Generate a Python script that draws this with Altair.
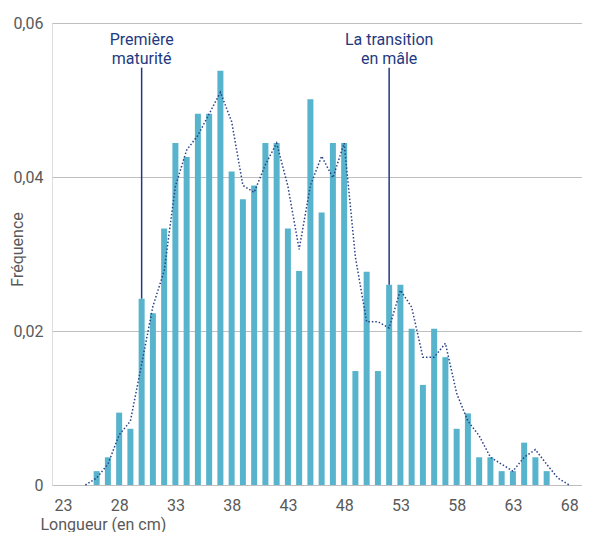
import altair as alt
import pandas as pd

# Bar data (length in cm -> frequency)
lengths = list(range(26, 67))
freqs = [0.0018, 0.0036, 0.0094, 0.0073, 0.0242, 0.0223, 0.0333, 0.0444, 0.0426, 0.0482,
         0.0482, 0.0538, 0.0407, 0.0371, 0.0389, 0.0444, 0.0444, 0.0333, 0.0278, 0.0501,
         0.0354, 0.0444, 0.0444, 0.0148, 0.0277, 0.0148, 0.0260, 0.0260, 0.0203, 0.0130,
         0.0203, 0.0166, 0.0073, 0.0093, 0.0036, 0.0036, 0.0018, 0.0018, 0.0055, 0.0036,
         0.0018]

# Dotted trend line
trend_x = list(range(25, 69))
trend_y = [0.0, 0.0009, 0.0027, 0.0065, 0.0083, 0.0157, 0.0232, 0.0278, 0.0388, 0.0435,
           0.0454, 0.0482, 0.0510, 0.0472, 0.0389, 0.0380, 0.0416, 0.0444, 0.0388, 0.0306,
           0.0389, 0.0427, 0.0399, 0.0444, 0.0296, 0.0212, 0.0212, 0.0204, 0.0253, 0.0231,
           0.0166, 0.0166, 0.0184, 0.0119, 0.0083, 0.0064, 0.0036, 0.0027, 0.0018, 0.0036,
           0.0046, 0.0027, 0.0009, 0.0]

# Annotations
annot_x = [30, 52]
annot_top = [0.0542, 0.0542]
annot_bottom = [0.0242, 0.0260]
annot_text = [["Première", "maturité"], ["La transition", "en mâle"]]

x_ticks = [23, 28, 33, 38, 43, 48, 53, 58, 63, 68]
y_ticks = [0, 0.02, 0.04, 0.06]

FONT = "Roboto"
LABEL_COLOR = "#595959"
NAVY = "#1F3A80"

bars_df = pd.DataFrame({"x": lengths, "y": freqs})
trend_df = pd.DataFrame({"x": trend_x, "y": trend_y})
annot_df = pd.DataFrame({"x": annot_x, "top": annot_top, "bottom": annot_bottom,
                         "label": annot_text})

xscale = alt.Scale(domain=[22.4768, 68.697], nice=False, zero=False)
yscale = alt.Scale(domain=[0, 0.06], nice=False)

x_axis = alt.Axis(values=x_ticks, title="Longueur (en cm)", grid=False, domain=False,
                  ticks=False, labelPadding=12, labelFontSize=16, labelColor=LABEL_COLOR,
                  labelFont=FONT, titleFont=FONT, titleFontSize=16, titleFontWeight="normal",
                  titleColor=LABEL_COLOR, titleAnchor="start", titleAlign="left",
                  titleX=-12, titleY=39, titleBaseline="middle")
y_axis = alt.Axis(values=y_ticks, title="Fréquence", grid=True, gridColor="#BFBFBF",
                  gridWidth=1.2, domain=False, ticks=False, labelPadding=9,
                  labelFontSize=16, labelColor=LABEL_COLOR, labelFont=FONT,
                  labelExpr="datum.value == 0 ? '0' : replace(format(datum.value, '.2f'), '.', ',')",
                  titleFont=FONT, titleFontSize=16, titleFontWeight="normal",
                  titleColor=LABEL_COLOR, titleAngle=270, titleX=-35, titleY=226,
                  titleAlign="center", titleBaseline="middle")

bars = alt.Chart(bars_df).mark_bar(color="#58B4CC", size=6).encode(
    x=alt.X("x:Q", scale=xscale, axis=x_axis),
    y=alt.Y("y:Q", scale=yscale, axis=y_axis),
)

trend = alt.Chart(trend_df).mark_line(color="#2A4288", strokeWidth=1.5,
                                      strokeDash=[1.5, 2]).encode(
    x=alt.X("x:Q", scale=xscale),
    y=alt.Y("y:Q", scale=yscale),
)

rules = alt.Chart(annot_df).mark_rule(color=NAVY, strokeWidth=1.5).encode(
    x=alt.X("x:Q", scale=xscale),
    y=alt.Y("top:Q", scale=yscale),
    y2="bottom:Q",
)

texts = alt.Chart(annot_df).mark_text(font=FONT, fontSize=16, color=NAVY,
                                      baseline="bottom", align="center",
                                      lineHeight=19, dy=-20).encode(
    x=alt.X("x:Q", scale=xscale),
    y=alt.Y("top:Q", scale=yscale),
    text="label",
)

chart = alt.layer(bars, trend, rules, texts).properties(
    width=530, height=462,
    autosize=alt.AutoSizeParams(type="none"),
    padding={"left": 44, "top": 15, "right": 0, "bottom": 47},
).configure_view(stroke=None).configure(background="white")

chart.save("out.html", embed_options={"renderer": "svg", "actions": False})
